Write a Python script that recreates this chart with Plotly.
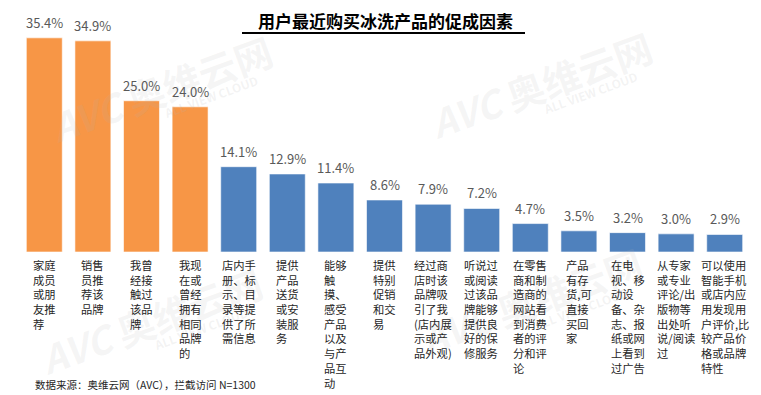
import plotly.graph_objects as go

categories = [
    "家庭<br>成员<br>或朋<br>友推<br>荐",
    "销售<br>员推<br>荐该<br>品牌",
    "我曾<br>经接<br>触过<br>该品<br>牌",
    "我现<br>在或<br>曾经<br>拥有<br>相同<br>品牌<br>的",
    "店内手<br>册、标<br>示、目<br>录等提<br>供了所<br>需信息",
    "提供<br>产品<br>送货<br>或安<br>装服<br>务",
    "能够<br>触<br>摸、<br>感受<br>产品<br>以及<br>与产<br>品互<br>动",
    "提供<br>特别<br>促销<br>和交<br>易",
    "经过商<br>店时该<br>品牌吸<br>引了我<br>(店内展<br>示或产<br>品外观)",
    "听说过<br>或阅读<br>过该品<br>牌能够<br>提供良<br>好的保<br>修服务",
    "在零售<br>商和制<br>造商的<br>网站看<br>到消费<br>者的评<br>分和评<br>论",
    "产品<br>有存<br>货,可<br>直接<br>买回<br>家",
    "在电<br>视、移<br>动设<br>备、杂<br>志、报<br>纸或网<br>上看到<br>过广告",
    "从专家<br>或专业<br>评论/出<br>版物等<br>出处听<br>说/阅读<br>过",
    "可以使用<br>智能手机<br>或店内应<br>用发现用<br>户评价,比<br>较产品价<br>格或品牌<br>特性",
]
values = [35.4, 34.9, 25.0, 24.0, 14.1, 12.9, 11.4, 8.6, 7.9, 7.2, 4.7, 3.5, 3.2, 3.0, 2.9]
groups = ["top"] * 4 + ["rest"] * 11

title_text = "用户最近购买冰洗产品的促成因素"
source_text = "数据来源：奥维云网（AVC），拦截访问 N=1300"

ORANGE = "#F79646"
BLUE = "#4F81BD"
FONT = "Noto Sans CJK SC"

W, H = 761, 395
L, R, T, B = 20, 12, 10, 143
PW, PH = W - L - R, H - T - B


def px(x):
    return (x - L) / PW


def py(y):
    return (H - B - y) / PH


xs = list(range(len(values)))
colors = [ORANGE if g == "top" else BLUE for g in groups]

fig = go.Figure()
fig.add_trace(go.Bar(
    x=xs, y=values,
    marker=dict(color=colors, line=dict(color="rgba(255,255,255,0.6)", width=1)),
    width=0.74,
    hoverinfo="skip",
))

annotations = []
# faint watermarks
for (wx, wy) in [(160, 88), (540, 85), (150, 320), (530, 300)]:
    annotations.append(dict(
        xref="paper", yref="paper", x=px(wx), y=py(wy), showarrow=False,
        xanchor="center", yanchor="middle",
        text="<b><i>AVC</i> 奥维云网</b>", textangle=-20,
        font=dict(family=FONT, size=38, color="rgba(180,180,180,0.13)"),
    ))
    annotations.append(dict(
        xref="paper", yref="paper", x=px(wx + 50), y=py(wy + 8), showarrow=False,
        xanchor="center", yanchor="middle",
        text="<b>ALL VIEW CLOUD</b>", textangle=-20,
        font=dict(family=FONT, size=12, color="rgba(180,180,180,0.16)"),
    ))

for i, v in enumerate(values):
    annotations.append(dict(
        x=i, y=v, xref="x", yref="y", text=f"{v:.1f}%", showarrow=False,
        yanchor="bottom", yshift=4,
        font=dict(family=FONT, size=13, color="#595959"),
    ))
    annotations.append(dict(
        x=i, y=0, xref="x", yref="y", text=categories[i], showarrow=False,
        yanchor="top", xanchor="center", align="left", yshift=-3,
        font=dict(family=FONT, size=11.3, color="#262626"),
    ))

annotations.append(dict(
    xref="paper", yref="paper", x=px(385), y=py(21),
    text=f"<b>{title_text}</b>", showarrow=False, xanchor="center", yanchor="middle",
    font=dict(family=FONT, size=17, color="#000000"),
))
annotations.append(dict(
    xref="paper", yref="paper", x=px(33), y=py(385),
    text=source_text, showarrow=False, xanchor="left", yanchor="middle",
    font=dict(family=FONT, size=10.5, color="#262626"),
))

fig.update_layout(
    width=W, height=H,
    margin=dict(l=L, r=R, t=T, b=B),
    paper_bgcolor="white", plot_bgcolor="white",
    showlegend=False,
    xaxis=dict(range=[-0.5, len(values) - 0.5], showticklabels=False, showgrid=False,
               zeroline=False, showline=False, ticks=""),
    yaxis=dict(range=[0, 40], visible=False, showgrid=False, zeroline=False),
    annotations=annotations,
    shapes=[dict(type="line", xref="paper", yref="paper",
                 x0=px(242), x1=px(525), y0=py(33), y1=py(33),
                 line=dict(color="black", width=2))],
)

fig.write_html("out.html", config={"displayModeBar": False},
               post_script="document.body.style.margin='0';")
